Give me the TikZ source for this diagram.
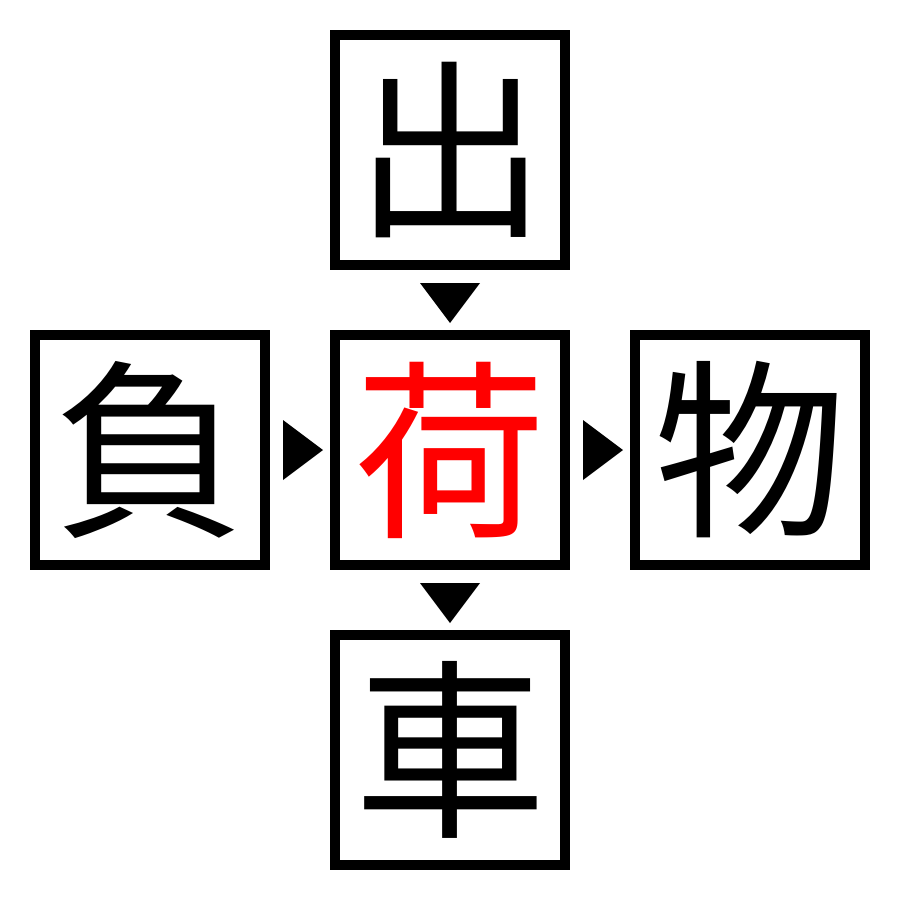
\documentclass[tikz,border=0pt]{standalone}
\usepackage{fontspec}
\newfontfamily\cjk{Noto Sans CJK JP}
\usetikzlibrary{calc}
\begin{document}
\begin{tikzpicture}[x=0.5pt,y=-0.5pt]
\tikzset{
  kbox/.style={draw, line width=5pt, minimum size=115pt, inner sep=0pt, outer sep=0pt,
    font=\cjk\fontsize{96}{96}\selectfont},
  tri/.style={fill=black}
}
\useasboundingbox (0,0) rectangle (900,900);
\node[kbox] (top) at (450,150) {出};
\node[kbox] (center) at (450,450) {\textcolor{red}{荷}};
\node[kbox] (left) at (150,450) {負};
\node[kbox] (right) at (750,450) {物};
\node[kbox] (bottom) at (450,750) {車};
\fill[tri] ($(top.south)+(-30,18)$) -- ($(top.south)+(30,18)$) -- ($(top.south)+(0,58)$) -- cycle;
\fill[tri] ($(center.south)+(-30,18)$) -- ($(center.south)+(30,18)$) -- ($(center.south)+(0,58)$) -- cycle;
\fill[tri] ($(left.east)+(18,-30)$) -- ($(left.east)+(18,30)$) -- ($(left.east)+(58,0)$) -- cycle;
\fill[tri] ($(center.east)+(18,-30)$) -- ($(center.east)+(18,30)$) -- ($(center.east)+(58,0)$) -- cycle;
\end{tikzpicture}
\end{document}
